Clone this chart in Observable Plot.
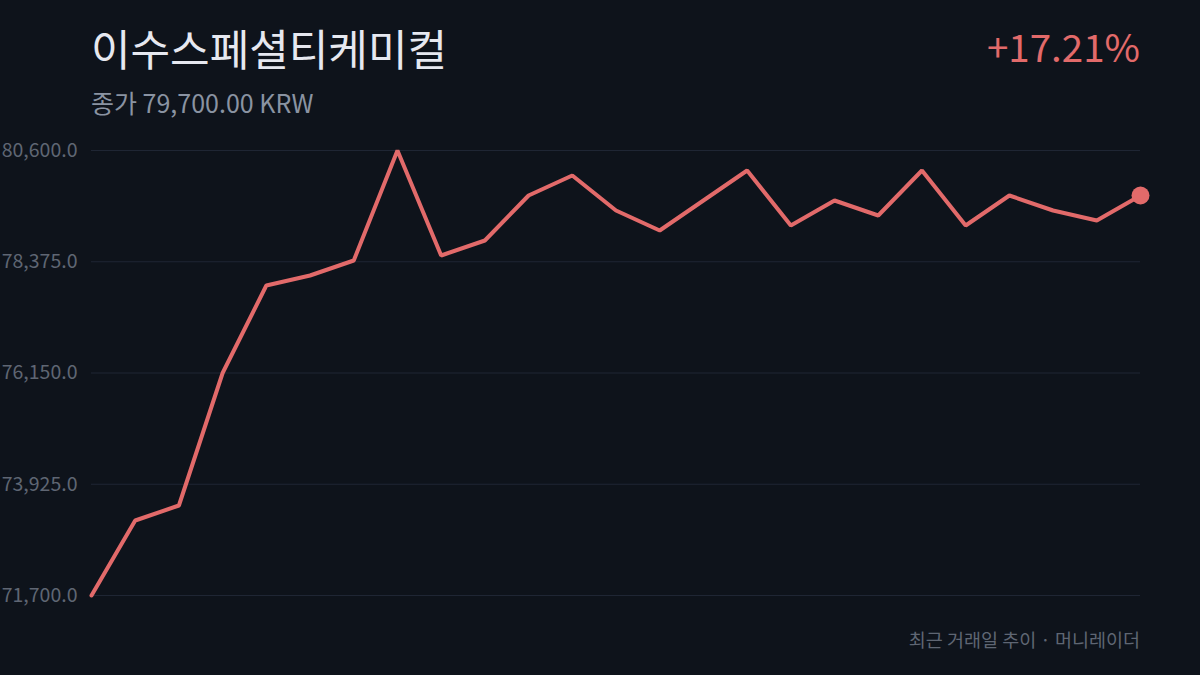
<!DOCTYPE html>
<html>
<head>
<meta charset="utf-8">
<script src="https://cdn.jsdelivr.net/npm/d3@7"></script>
<script src="https://cdn.jsdelivr.net/npm/@observablehq/plot@0.6"></script>
<style>
  html, body { margin: 0; padding: 0; background: #0e131b; }
  #wrap { position: relative; width: 1200px; height: 675px; overflow: hidden; background: #0e131b; font-family: "Noto Sans CJK KR", "Noto Sans", sans-serif; }
  #title { position: absolute; left: 91px; top: 26px; font-size: 43px; line-height: 1; color: #e6e8f0; white-space: nowrap; }
  #sub { position: absolute; left: 91px; top: 90px; font-size: 25px; line-height: 1; color: #8a93a2; white-space: nowrap; }
  #pct { position: absolute; right: 60px; top: 26px; font-size: 38.5px; line-height: 1; color: #e26a6a; white-space: nowrap; }
  #foot { position: absolute; right: 60px; top: 630px; font-size: 18.5px; line-height: 1; color: #5f6673; white-space: nowrap; }
  #chart { position: absolute; left: 0; top: 0; }
</style>
</head>
<body>
<div id="wrap">
  <div id="chart"></div>
  <div id="title"></div>
  <div id="sub"></div>
  <div id="pct"></div>
  <div id="foot"></div>
</div>
<script>
const titleText = "이수스페셜티케미컬";
const subtitleText = "종가 79,700.00 KRW";
const changeText = "+17.21%";
const footerText = "최근 거래일 추이 · 머니레이더";

const days = d3.range(25);
const closes = [71700, 73200, 73500, 76150, 77900, 78100, 78400, 80600, 78500, 78800,
                79700, 80100, 79400, 79000, 79600, 80200, 79100, 79600, 79300, 80200,
                79100, 79700, 79400, 79200, 79700];
const yTicks = [71700, 73925, 76150, 78375, 80600];

document.getElementById("title").textContent = titleText;
document.getElementById("sub").textContent = subtitleText;
document.getElementById("pct").textContent = changeText;
document.getElementById("foot").textContent = footerText;

const data = days.map((d, i) => ({x: d, y: closes[i]}));
const last = [data[data.length - 1]];

const chart = Plot.plot({
  width: 1200,
  height: 675,
  marginTop: 150,
  marginBottom: 80,
  marginLeft: 91,
  marginRight: 60,
  style: {background: "transparent", color: "#5f6673", fontFamily: "'Noto Sans CJK KR', 'Noto Sans', sans-serif", fontSize: "19.5px", overflow: "visible"},
  x: {domain: [0, 24], axis: null},
  y: {domain: [71700, 80600], ticks: yTicks, tickFormat: d3.format(",.1f"), tickSize: 0, tickPadding: 14, label: null},
  marks: [
    Plot.ruleY(yTicks, {stroke: "#1f2634", strokeWidth: 1}),
    Plot.line(data, {x: "x", y: "y", stroke: "#e26a6a", strokeWidth: 4, strokeLinejoin: "miter"}),
    Plot.dot(last, {x: "x", y: "y", r: 9, fill: "#e26a6a", stroke: "none"})
  ]
});
document.getElementById("chart").appendChild(chart);
</script>
</body>
</html>
